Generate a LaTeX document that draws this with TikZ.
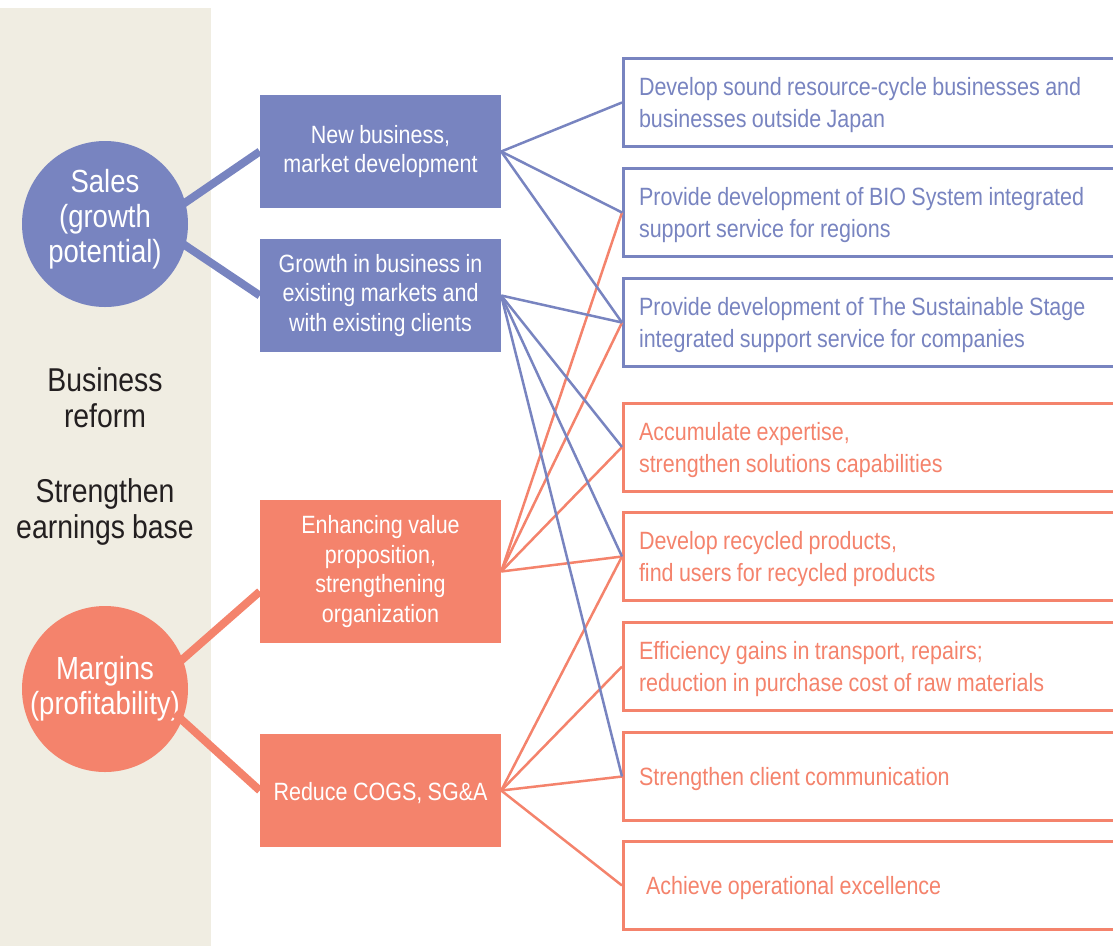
\documentclass[tikz,border=0pt]{standalone}
\usepackage{fontspec}
\setmainfont{Liberation Sans}[FakeStretch=0.86,WordSpace=0.9]
\usetikzlibrary{calc}

\definecolor{blu}{HTML}{7884C0}
\definecolor{ora}{HTML}{F4836C}
\definecolor{sand}{HTML}{F0EDE2}
\definecolor{ink}{HTML}{231F20}

\tikzset{
  goal/.style={circle,minimum size=166pt,inner sep=0pt,align=center,text=white,
    font=\fontsize{32}{35}\selectfont},
  side/.style={text=ink,align=center,font=\fontsize{33}{36}\selectfont},
  lever/.style={minimum width=241pt,minimum height=113pt,inner sep=0pt,align=center,
    text=white,font=\fontsize{25}{29.5}\selectfont,
    execute at begin node={\rule{0pt}{24pt}}},
  act/.style={draw,line width=3pt,anchor=west,text width=480pt,minimum height=88pt,
    inner xsep=15.5pt,inner ysep=0pt,align=flush left,font=\fontsize{25}{32}\selectfont,
    execute at begin node={\rule{0pt}{24pt}}},
  tie/.style={line width=2.5pt},
  bar/.style={line width=8pt}
}

\begin{document}
\begin{tikzpicture}[x=1pt,y=-1pt]
\useasboundingbox (0,0) rectangle (1113,946);
\clip (0,0) rectangle (1113,946);
\fill[sand] (0,8) rectangle (211,946);

\node[goal,fill=blu,text depth=16pt] (sales) at (105,224) {Sales\\(growth\\potential)};
\node[goal,fill=ora] (margins) at (105,689) {Margins\\(profitability)};
\node[side] (reform) at (105,398) {Business\\reform};
\node[side] (earn) at (105,512) {Strengthen\\earnings base};

\node[lever,fill=blu] (newbiz) at (380.5,151.5) {New business,\\market development};
\node[lever,fill=blu] (growth) at (380.5,295.5) {Growth in business in\\existing markets and\\with existing clients};
\node[lever,fill=ora,minimum height=143pt] (value) at (380.5,571.5) {Enhancing value\\proposition,\\strengthening\\organization};
\node[lever,fill=ora] (cost) at (380.5,790.5) {Reduce COGS, SG\&A};

\node[act,blu] (a1) at (622,102.5) {Develop sound resource-cycle businesses and\\businesses outside Japan};
\node[act,blu] (a2) at (622,212.5) {Provide development of BIO System integrated\\support service for regions};
\node[act,blu] (a3) at (622,322.5) {Provide development of The Sustainable Stage\\integrated support service for companies};
\node[act,ora] (a4) at (622,447) {Accumulate expertise,\\strengthen solutions capabilities};
\node[act,ora] (a5) at (622,556.5) {Develop recycled products,\\find users for recycled products};
\node[act,ora] (a6) at (622,666.5) {Efficiency gains in transport, repairs;\\reduction in purchase cost of raw materials};
\node[act,ora] (a7) at (622,776.5) {Strengthen client communication};
\node[act,ora] (a8) at (622,885.5) {\hspace*{7pt}Achieve operational excellence};

\draw[bar,blu] ($(sales.15)!-10pt!(newbiz.west)$) -- (newbiz.west);
\draw[bar,blu] ($(sales.-15)!-10pt!(growth.west)$) -- (growth.west);
\draw[bar,ora] ($(margins.21)!-10pt!($(value.west)+(0,20)$)$) -- ($(value.west)+(0,20)$);
\draw[bar,ora] ($(margins.-22)!-10pt!(cost.west)$) -- (cost.west);

\draw[tie,ora] (value.east) -- (a2.west);
\draw[tie,ora] (value.east) -- (a3.west);
\draw[tie,ora] (value.east) -- (a4.west);
\draw[tie,ora] (value.east) -- (a5.west);
\draw[tie,ora] (cost.east) -- (a5.west);
\draw[tie,ora] (cost.east) -- (a6.west);
\draw[tie,ora] (cost.east) -- (a7.west);
\draw[tie,ora] (cost.east) -- (a8.west);

\draw[tie,blu] (newbiz.east) -- (a1.west);
\draw[tie,blu] (newbiz.east) -- (a2.west);
\draw[tie,blu] (newbiz.east) -- (a3.west);
\draw[tie,blu] (growth.east) -- (a3.west);
\draw[tie,blu] (growth.east) -- (a4.west);
\draw[tie,blu] (growth.east) -- (a5.west);
\draw[tie,blu] (growth.east) -- (a7.west);
\end{tikzpicture}
\end{document}
